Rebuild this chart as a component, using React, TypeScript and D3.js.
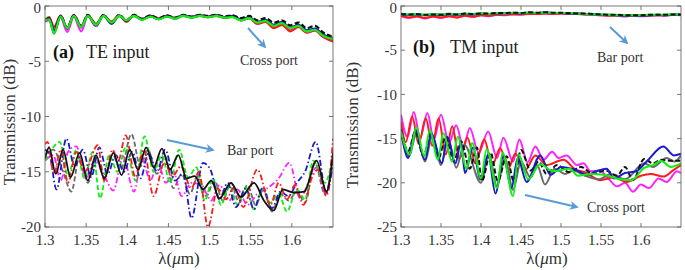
import React from "react";
import * as d3 from "d3";

type P = [number, number];

// ---------- ticks ----------
const xTicks = [1.3, 1.35, 1.4, 1.45, 1.5, 1.55, 1.6];
const yTicksA = [0, -5, -10, -15, -20];
const yTicksB = [0, -5, -10, -15, -20, -25];

// ---------- panel (a) TE input, cross port (shared wavelength grid) ----------
const aCrossLambda = [1.300, 1.305, 1.311, 1.319, 1.327, 1.335, 1.344, 1.352, 1.362, 1.371, 1.381, 1.390, 1.399, 1.408, 1.418, 1.428, 1.438, 1.448, 1.458, 1.468, 1.478, 1.488, 1.498, 1.508, 1.518, 1.528, 1.538, 1.548, 1.558, 1.568, 1.578, 1.588, 1.598, 1.608, 1.618, 1.628, 1.638, 1.650];
const aCrossGreen = [-1.3, -1.2, -2.45, -0.95, -2.0, -0.9, -1.9, -0.9, -1.7, -0.9, -1.5, -0.9, -1.3, -0.9, -1.25, -0.95, -1.2, -0.95, -1.15, -0.9, -1.05, -0.9, -1.0, -0.9, -1.05, -1.0, -1.3, -1.1, -1.5, -1.35, -1.8, -1.55, -2.0, -1.8, -2.3, -2.15, -2.7, -3.0];
const aCrossMagenta = [-1.4, -1.3, -1.9, -1.0, -2.35, -0.95, -2.3, -0.9, -1.8, -0.9, -1.5, -0.9, -1.35, -0.85, -1.2, -0.9, -1.15, -0.9, -1.1, -0.85, -1.0, -0.85, -1.0, -0.85, -1.05, -0.95, -1.3, -1.1, -1.6, -1.4, -1.9, -1.6, -2.2, -1.85, -2.4, -2.2, -2.8, -3.2];
const aCrossRed = [-1.3, -1.0, -1.9, -0.85, -2.0, -0.8, -1.8, -0.85, -1.6, -0.85, -1.4, -0.85, -1.45, -0.85, -1.2, -0.9, -1.15, -0.9, -1.1, -0.85, -1.0, -0.85, -1.0, -0.85, -1.05, -0.95, -1.3, -1.1, -1.6, -1.45, -2.0, -1.7, -2.3, -1.9, -2.4, -2.2, -2.8, -3.2];
const aCrossBlue = [-1.35, -1.1, -2.2, -0.9, -2.0, -0.85, -1.9, -0.85, -1.75, -0.85, -1.6, -0.85, -1.35, -0.85, -1.2, -0.9, -1.2, -0.9, -1.1, -0.85, -1.0, -0.85, -0.95, -0.85, -1.0, -0.9, -1.2, -1.0, -1.45, -1.25, -1.7, -1.45, -1.95, -1.7, -2.2, -2.05, -2.6, -3.0];
const aCrossBlack = [-1.3, -1.15, -2.3, -0.9, -2.0, -0.85, -1.85, -0.8, -1.7, -0.8, -1.55, -0.8, -1.3, -0.8, -1.15, -0.85, -1.1, -0.85, -1.05, -0.8, -0.95, -0.8, -0.9, -0.8, -0.95, -0.85, -1.1, -0.9, -1.3, -1.1, -1.5, -1.3, -1.75, -1.5, -2.0, -1.8, -2.4, -2.8];
const aCrossGray = [-1.35, -1.2, -2.5, -0.95, -2.1, -0.9, -1.95, -0.9, -1.8, -0.9, -1.6, -0.9, -1.35, -0.9, -1.25, -0.95, -1.2, -0.95, -1.15, -0.9, -1.05, -0.9, -1.0, -0.9, -1.05, -0.95, -1.25, -1.05, -1.45, -1.3, -1.75, -1.5, -2.0, -1.75, -2.25, -2.1, -2.6, -2.9];

// ---------- panel (a) TE input, bar port ----------
const aBarBlack: P[] = [[1.300, -13.8], [1.305, -12.8], [1.313, -15.2], [1.322, -13.0], [1.331, -15.5], [1.342, -13.3], [1.352, -15.8], [1.362, -13.5], [1.372, -15.6], [1.383, -13.3], [1.393, -15.3], [1.403, -13.0], [1.413, -14.8], [1.423, -12.8], [1.432, -14.6], [1.442, -12.9], [1.452, -14.8], [1.462, -13.5], [1.472, -15.6], [1.482, -15.4], [1.492, -16.6], [1.502, -15.8], [1.512, -17.4], [1.526, -16.0], [1.538, -17.3], [1.554, -16.0], [1.566, -17.6], [1.578, -18.5], [1.589, -16.6], [1.603, -16.9], [1.615, -16.8], [1.630, -14.0], [1.642, -16.8], [1.650, -13.3]];
const aBarRed: P[] = [[1.300, -12.5], [1.303, -12.3], [1.311, -15.2], [1.319, -13.0], [1.328, -16.0], [1.338, -13.2], [1.348, -15.0], [1.364, -12.6], [1.372, -15.8], [1.382, -13.0], [1.389, -14.0], [1.398, -11.7], [1.410, -15.5], [1.420, -13.0], [1.432, -17.2], [1.445, -14.2], [1.455, -15.4], [1.465, -14.5], [1.478, -16.5], [1.487, -15.0], [1.498, -20.0], [1.510, -16.5], [1.520, -17.5], [1.530, -16.4], [1.541, -18.2], [1.558, -14.8], [1.574, -18.0], [1.584, -16.0], [1.594, -17.5], [1.604, -16.2], [1.614, -18.0], [1.624, -15.6], [1.632, -14.8], [1.642, -17.2], [1.650, -12.0]];
const aBarBlue: P[] = [[1.300, -13.0], [1.305, -13.3], [1.314, -16.6], [1.326, -12.0], [1.336, -14.5], [1.346, -13.0], [1.356, -15.5], [1.366, -12.8], [1.376, -15.2], [1.386, -13.5], [1.396, -15.0], [1.406, -13.2], [1.416, -15.6], [1.426, -13.3], [1.436, -15.0], [1.446, -13.0], [1.458, -15.8], [1.468, -15.2], [1.478, -19.2], [1.492, -14.2], [1.501, -14.8], [1.512, -17.5], [1.522, -16.0], [1.532, -18.2], [1.544, -16.5], [1.554, -18.4], [1.564, -16.5], [1.576, -18.3], [1.586, -16.8], [1.596, -17.2], [1.606, -16.0], [1.616, -15.0], [1.629, -12.3], [1.642, -16.9], [1.650, -14.0]];
const aBarMagenta: P[] = [[1.300, -14.0], [1.310, -13.5], [1.319, -15.8], [1.328, -13.2], [1.338, -12.7], [1.350, -15.6], [1.360, -14.0], [1.370, -15.0], [1.383, -16.7], [1.395, -13.6], [1.408, -16.8], [1.418, -13.8], [1.428, -15.8], [1.437, -14.2], [1.447, -16.0], [1.456, -15.0], [1.466, -17.2], [1.478, -16.0], [1.490, -16.2], [1.502, -17.6], [1.512, -16.2], [1.524, -17.6], [1.534, -16.6], [1.546, -18.0], [1.558, -17.0], [1.570, -16.5], [1.584, -15.6], [1.597, -14.2], [1.610, -17.4], [1.620, -16.0], [1.630, -14.6], [1.642, -17.0], [1.650, -14.2]];
const aBarGreen: P[] = [[1.300, -14.0], [1.308, -13.0], [1.318, -12.3], [1.328, -15.4], [1.338, -13.0], [1.348, -15.6], [1.358, -13.2], [1.367, -17.4], [1.378, -13.5], [1.388, -15.0], [1.398, -12.8], [1.410, -15.8], [1.421, -11.8], [1.432, -15.0], [1.442, -13.5], [1.452, -16.0], [1.463, -13.0], [1.474, -15.5], [1.484, -14.6], [1.494, -17.6], [1.504, -15.6], [1.514, -18.0], [1.524, -16.2], [1.534, -18.0], [1.544, -16.4], [1.554, -18.4], [1.564, -16.6], [1.574, -17.8], [1.584, -17.0], [1.594, -18.6], [1.606, -16.6], [1.616, -17.5], [1.626, -14.0], [1.640, -16.0], [1.650, -13.6]];
const aBarGray: P[] = [[1.300, -13.5], [1.310, -13.0], [1.322, -15.0], [1.332, -16.8], [1.342, -13.6], [1.352, -16.0], [1.362, -13.8], [1.372, -15.5], [1.382, -13.5], [1.392, -14.8], [1.405, -11.6], [1.416, -14.5], [1.425, -13.0], [1.436, -15.2], [1.446, -13.6], [1.456, -16.5], [1.466, -15.2], [1.476, -17.0], [1.486, -15.4], [1.496, -17.2], [1.506, -15.8], [1.516, -17.6], [1.526, -16.0], [1.536, -17.8], [1.546, -16.2], [1.556, -18.0], [1.566, -16.5], [1.576, -18.6], [1.586, -17.0], [1.596, -17.6], [1.606, -16.8], [1.616, -17.8], [1.628, -14.2], [1.640, -17.0], [1.650, -14.0]];

// ---------- panel (b) TM input, bar port (shared wavelength grid) ----------
const bBarLambda = [1.30, 1.31, 1.32, 1.33, 1.34, 1.35, 1.36, 1.37, 1.38, 1.39, 1.40, 1.41, 1.42, 1.43, 1.44, 1.45, 1.46, 1.47, 1.48, 1.49, 1.50, 1.51, 1.52, 1.53, 1.54, 1.55, 1.56, 1.57, 1.58, 1.59, 1.60, 1.61, 1.62, 1.63, 1.64, 1.65];
const bBarMagenta = [-1.15, -1.35, -1.15, -1.40, -1.20, -1.35, -1.15, -1.30, -1.10, -1.25, -1.05, -1.15, -1.00, -1.05, -0.90, -0.95, -0.85, -0.90, -0.85, -0.90, -0.85, -0.90, -0.90, -0.95, -1.00, -1.05, -1.05, -1.10, -1.15, -1.10, -1.15, -1.10, -1.05, -1.10, -1.00, -1.05];
const bBarRed = [-1.10, -1.30, -1.20, -1.35, -1.20, -1.30, -1.15, -1.30, -1.10, -1.20, -1.05, -1.10, -1.00, -1.00, -0.95, -0.95, -0.90, -0.90, -0.85, -0.90, -0.85, -0.90, -0.90, -0.95, -1.00, -1.05, -1.10, -1.10, -1.15, -1.10, -1.10, -1.10, -1.05, -1.05, -1.00, -1.00];
const bBarBlue = [-0.90, -1.00, -0.95, -1.05, -0.95, -1.00, -0.90, -1.00, -0.90, -0.95, -0.85, -0.90, -0.85, -0.85, -0.80, -0.85, -0.75, -0.80, -0.75, -0.80, -0.80, -0.85, -0.85, -0.90, -0.95, -1.00, -1.00, -1.05, -1.10, -1.05, -1.10, -1.05, -1.00, -1.05, -1.00, -0.95];
const bBarGreen = [-0.85, -0.95, -0.90, -1.00, -0.90, -0.95, -0.85, -0.95, -0.85, -0.90, -0.80, -0.90, -0.80, -0.85, -0.75, -0.80, -0.75, -0.80, -0.75, -0.80, -0.80, -0.80, -0.85, -0.90, -0.95, -0.95, -1.00, -1.05, -1.05, -1.05, -1.05, -1.00, -1.00, -1.00, -0.95, -0.95];
const bBarGray = [-0.95, -1.05, -0.95, -1.05, -1.00, -1.05, -0.95, -1.00, -0.90, -0.95, -0.90, -0.90, -0.85, -0.85, -0.80, -0.85, -0.80, -0.80, -0.75, -0.80, -0.80, -0.85, -0.85, -0.90, -0.95, -1.00, -1.05, -1.05, -1.10, -1.10, -1.05, -1.05, -1.05, -1.00, -1.00, -1.00];
const bBarBlack = [-0.90, -0.95, -0.90, -1.00, -0.95, -1.00, -0.90, -0.95, -0.85, -0.90, -0.85, -0.85, -0.80, -0.80, -0.75, -0.80, -0.70, -0.75, -0.70, -0.75, -0.75, -0.80, -0.85, -0.85, -0.90, -0.95, -1.00, -1.00, -1.05, -1.05, -1.05, -1.00, -1.00, -1.00, -0.95, -1.00];

// ---------- panel (b) TM input, cross port ----------
const bCrossMagenta: P[] = [[1.300, -12.3], [1.308, -14.8], [1.316, -12.0], [1.324, -14.9], [1.333, -12.1], [1.341, -15.1], [1.350, -12.3], [1.360, -15.5], [1.369, -13.5], [1.378, -16.0], [1.386, -13.8], [1.397, -16.6], [1.409, -14.2], [1.420, -17.2], [1.428, -14.9], [1.440, -17.6], [1.448, -15.1], [1.458, -17.7], [1.468, -15.9], [1.478, -17.4], [1.489, -16.5], [1.497, -17.2], [1.507, -16.9], [1.520, -18.0], [1.528, -17.8], [1.537, -18.7], [1.548, -18.6], [1.560, -19.6], [1.570, -20.4], [1.580, -20.0], [1.590, -21.0], [1.600, -20.2], [1.610, -20.6], [1.622, -19.5], [1.632, -19.9], [1.645, -18.7], [1.650, -18.9]];
const bCrossRed: P[] = [[1.300, -13.1], [1.306, -15.4], [1.314, -12.5], [1.322, -15.6], [1.331, -12.7], [1.339, -15.8], [1.347, -12.7], [1.356, -16.8], [1.364, -13.6], [1.373, -17.3], [1.383, -14.9], [1.393, -17.8], [1.404, -15.1], [1.414, -18.0], [1.424, -16.1], [1.434, -18.4], [1.443, -16.7], [1.455, -18.6], [1.468, -16.9], [1.482, -18.0], [1.503, -17.4], [1.518, -18.5], [1.530, -18.8], [1.549, -19.7], [1.566, -19.4], [1.582, -19.9], [1.600, -19.2], [1.612, -19.0], [1.628, -19.3], [1.640, -18.6], [1.650, -18.0]];
const bCrossBlue: P[] = [[1.300, -14.0], [1.309, -17.2], [1.318, -14.0], [1.330, -17.4], [1.338, -14.4], [1.351, -17.8], [1.358, -14.8], [1.368, -17.8], [1.375, -15.4], [1.380, -18.9], [1.390, -16.0], [1.399, -19.6], [1.409, -16.8], [1.418, -21.2], [1.428, -17.0], [1.438, -20.6], [1.446, -17.2], [1.457, -19.9], [1.474, -16.9], [1.487, -19.1], [1.500, -18.2], [1.517, -18.5], [1.533, -19.1], [1.544, -18.7], [1.557, -18.4], [1.566, -19.5], [1.580, -18.9], [1.594, -18.7], [1.607, -17.6], [1.628, -15.9], [1.641, -16.9], [1.650, -16.7]];
const bCrossGreen: P[] = [[1.300, -14.2], [1.311, -16.8], [1.319, -13.7], [1.329, -17.0], [1.336, -14.0], [1.346, -17.4], [1.353, -14.4], [1.364, -17.6], [1.371, -14.8], [1.382, -18.4], [1.389, -15.5], [1.400, -19.5], [1.407, -16.2], [1.420, -20.6], [1.427, -16.6], [1.440, -21.5], [1.447, -16.8], [1.459, -19.6], [1.474, -17.9], [1.490, -18.7], [1.511, -18.4], [1.521, -19.2], [1.538, -19.0], [1.553, -19.1], [1.574, -19.6], [1.588, -19.7], [1.604, -18.3], [1.615, -18.0], [1.625, -17.5], [1.637, -18.2], [1.650, -17.8]];
const bCrossGray: P[] = [[1.300, -14.5], [1.310, -17.0], [1.319, -14.5], [1.330, -17.6], [1.339, -14.7], [1.350, -18.0], [1.359, -15.0], [1.369, -18.3], [1.379, -15.7], [1.400, -20.0], [1.410, -16.8], [1.420, -20.4], [1.430, -17.2], [1.440, -20.8], [1.450, -17.6], [1.462, -19.4], [1.470, -18.0], [1.480, -20.2], [1.492, -18.4], [1.505, -19.0], [1.515, -18.6], [1.530, -19.2], [1.548, -19.6], [1.562, -19.0], [1.580, -19.6], [1.604, -17.8], [1.615, -18.2], [1.632, -17.2], [1.642, -17.6], [1.650, -16.9]];
const bCrossBlack: P[] = [[1.300, -14.0], [1.309, -16.4], [1.318, -14.2], [1.328, -17.0], [1.337, -14.5], [1.347, -17.2], [1.356, -14.8], [1.366, -17.6], [1.375, -15.3], [1.386, -18.4], [1.395, -16.0], [1.401, -19.8], [1.412, -16.6], [1.421, -19.8], [1.432, -17.0], [1.441, -19.8], [1.450, -16.3], [1.462, -18.6], [1.472, -17.6], [1.482, -19.0], [1.495, -18.0], [1.510, -18.8], [1.525, -18.2], [1.540, -19.0], [1.556, -18.6], [1.570, -19.2], [1.580, -18.2], [1.590, -19.7], [1.604, -17.3], [1.615, -17.8], [1.625, -17.4], [1.637, -17.5], [1.650, -17.5]];

// ---------- styling ----------
const C = {
  red: "#ff1a1a",
  magenta: "#ff22ff",
  blue: "#1a1acc",
  green: "#11ee11",
  gray: "#6a6a6a",
  black: "#111111",
};
const DASHDOT = "6,2.5,1.5,2.5";
const DASHED = "5,2.5";
const ARROW = "#5b9bd5";
const FONT = "Liberation Serif, Times New Roman, Tinos, DejaVu Serif, serif";
const TXT = { fontFamily: FONT };

type Series = { pts: P[]; color: string; dash?: string; width: number };

const zip = (l: number[], v: number[]): P[] => l.map((x, i) => [x, v[i]] as P);

type PanelProps = {
  id: string;
  x0: number; x1: number; y0: number; y1: number;
  yDomain: [number, number];
  yTicks: number[];
  series: Series[];
  yLabelX: number; yLabelY: number;
  xLabelX: number;
};

function Panel(p: PanelProps) {
  const xs = d3.scaleLinear().domain([1.3, 1.65]).range([p.x0, p.x1]);
  const ys = d3.scaleLinear().domain(p.yDomain).range([p.y1, p.y0]);
  const line = d3.line<P>().x((d) => xs(d[0])).y((d) => ys(d[1])).curve(d3.curveMonotoneX);
  const tl = 4;
  const axisColor = "#555";
  return (
    <g>
      <defs>
        <clipPath id={p.id}>
          <rect x={p.x0} y={p.y0} width={p.x1 - p.x0} height={p.y1 - p.y0} />
        </clipPath>
      </defs>
      <g clipPath={`url(#${p.id})`}>
        {p.series.map((s, i) => (
          <path key={i} d={line(s.pts) || ""} fill="none" stroke={s.color} strokeWidth={s.width}
            strokeDasharray={s.dash} strokeLinejoin="round" />
        ))}
      </g>
      <rect x={p.x0} y={p.y0} width={p.x1 - p.x0} height={p.y1 - p.y0} fill="none" stroke={axisColor} strokeWidth={0.8} />
      {xTicks.map((t) => (
        <g key={"x" + t}>
          <line x1={xs(t)} x2={xs(t)} y1={p.y1} y2={p.y1 - tl} stroke={axisColor} strokeWidth={0.8} />
          <line x1={xs(t)} x2={xs(t)} y1={p.y0} y2={p.y0 + tl} stroke={axisColor} strokeWidth={0.8} />
          <text x={xs(t)} y={p.y1 + 18} textAnchor="middle" fontSize={15} fill="#333" style={TXT}>{t}</text>
        </g>
      ))}
      {p.yTicks.map((t) => (
        <g key={"y" + t}>
          <line x1={p.x0} x2={p.x0 + tl} y1={ys(t)} y2={ys(t)} stroke={axisColor} strokeWidth={0.8} />
          <line x1={p.x1} x2={p.x1 - tl} y1={ys(t)} y2={ys(t)} stroke={axisColor} strokeWidth={0.8} />
          <text x={p.x0 - 4} y={Math.max(ys(t), 8)} dy="0.35em" textAnchor="end" fontSize={15} fill="#333" style={TXT}>{t}</text>
        </g>
      ))}
      <text transform={`translate(${p.yLabelX},${p.yLabelY}) rotate(-90)`} textAnchor="middle" fontSize={17} fill="#333" style={TXT}>
        Transmission (dB)
      </text>
      <text x={p.xLabelX} y={264} textAnchor="middle" fontSize={17} fill="#333" style={TXT}>
        λ(<tspan fontStyle="italic">μ</tspan>m)
      </text>
    </g>
  );
}

function Arrow({ x1, y1, x2, y2 }: { x1: number; y1: number; x2: number; y2: number }) {
  return <line x1={x1} y1={y1} x2={x2} y2={y2} stroke={ARROW} strokeWidth={2} markerEnd="url(#arrowhead)" />;
}

export default function App() {
  const seriesACross: Series[] = [
    { pts: zip(aCrossLambda, aCrossGray), color: C.gray, width: 2.2 },
    { pts: zip(aCrossLambda, aCrossMagenta), color: C.magenta, width: 2.2 },
    { pts: zip(aCrossLambda, aCrossRed), color: C.red, width: 2.2 },
    { pts: zip(aCrossLambda, aCrossBlue), color: C.blue, width: 2.2 },
    { pts: zip(aCrossLambda, aCrossBlack), color: C.black, width: 2.2, dash: DASHED },
    { pts: zip(aCrossLambda, aCrossGreen), color: C.green, width: 2.2 },
  ];
  const seriesABar: Series[] = [
    { pts: aBarGray, color: C.gray, width: 1.8, dash: DASHED },
    { pts: aBarMagenta, color: C.magenta, width: 1.8, dash: DASHDOT },
    { pts: aBarGreen, color: C.green, width: 1.8, dash: DASHED },
    { pts: aBarBlue, color: C.blue, width: 1.8, dash: DASHDOT },
    { pts: aBarRed, color: C.red, width: 1.8, dash: DASHDOT },
    { pts: aBarBlack, color: C.black, width: 1.8 },
  ];
  const seriesBBar: Series[] = [
    { pts: zip(bBarLambda, bBarMagenta), color: C.magenta, width: 2 },
    { pts: zip(bBarLambda, bBarRed), color: C.red, width: 2 },
    { pts: zip(bBarLambda, bBarGray), color: C.gray, width: 2 },
    { pts: zip(bBarLambda, bBarBlue), color: C.blue, width: 2 },
    { pts: zip(bBarLambda, bBarGreen), color: C.green, width: 2 },
    { pts: zip(bBarLambda, bBarBlack), color: C.black, width: 2, dash: DASHED },
  ];
  const seriesBCross: Series[] = [
    { pts: bCrossMagenta, color: C.magenta, width: 2 },
    { pts: bCrossRed, color: C.red, width: 2 },
    { pts: bCrossGray, color: C.gray, width: 2 },
    { pts: bCrossBlack, color: C.black, width: 2, dash: DASHED },
    { pts: bCrossBlue, color: C.blue, width: 2 },
    { pts: bCrossGreen, color: C.green, width: 2 },
  ];

  return (
    <svg width={685} height={270} style={{ position: "absolute", left: 0, top: 0, background: "#fff" }}>
      <defs>
        <marker id="arrowhead" viewBox="0 0 10 10" refX="8" refY="5" markerWidth="9" markerHeight="9"
          markerUnits="userSpaceOnUse" orient="auto">
          <path d="M0,0 L10,5 L0,10 L3,5 Z" fill={ARROW} />
        </marker>
      </defs>
      <Panel id="clipA" x0={45} x1={333} y0={6} y1={227} yDomain={[-20, 0]} yTicks={yTicksA}
        series={[...seriesABar, ...seriesACross]} yLabelX={15} yLabelY={122} xLabelX={179} />
      <Panel id="clipB" x0={401} x1={681} y0={6} y1={227} yDomain={[-25, 0]} yTicks={yTicksB}
        series={[...seriesBCross, ...seriesBBar]} yLabelX={358} yLabelY={125} xLabelX={547} />

      {/* panel labels */}
      <text x={53} y={58} fontSize={18} fontWeight="bold" fill="#111" style={TXT}>(a)</text>
      <text x={86} y={58} fontSize={18} fill="#222" style={TXT}>TE input</text>
      <text x={413} y={53} fontSize={18} fontWeight="bold" fill="#111" style={TXT}>(b)</text>
      <text x={450} y={53} fontSize={18} fill="#222" style={TXT}>TM input</text>

      {/* annotations */}
      <text x={240} y={65} fontSize={14} fill="#333" style={TXT}>Cross port</text>
      <Arrow x1={248} y1={28} x2={265} y2={47} />
      <text x={227} y={155} fontSize={14} fill="#333" style={TXT}>Bar port</text>
      <Arrow x1={167} y1={140} x2={213} y2={150} />
      <text x={597} y={62} fontSize={14} fill="#333" style={TXT}>Bar port</text>
      <Arrow x1={610} y1={27} x2={627} y2={43} />
      <text x={587} y={212} fontSize={14} fill="#333" style={TXT}>Cross port</text>
      <Arrow x1={525} y1={195} x2={577} y2={207} />
    </svg>
  );
}
